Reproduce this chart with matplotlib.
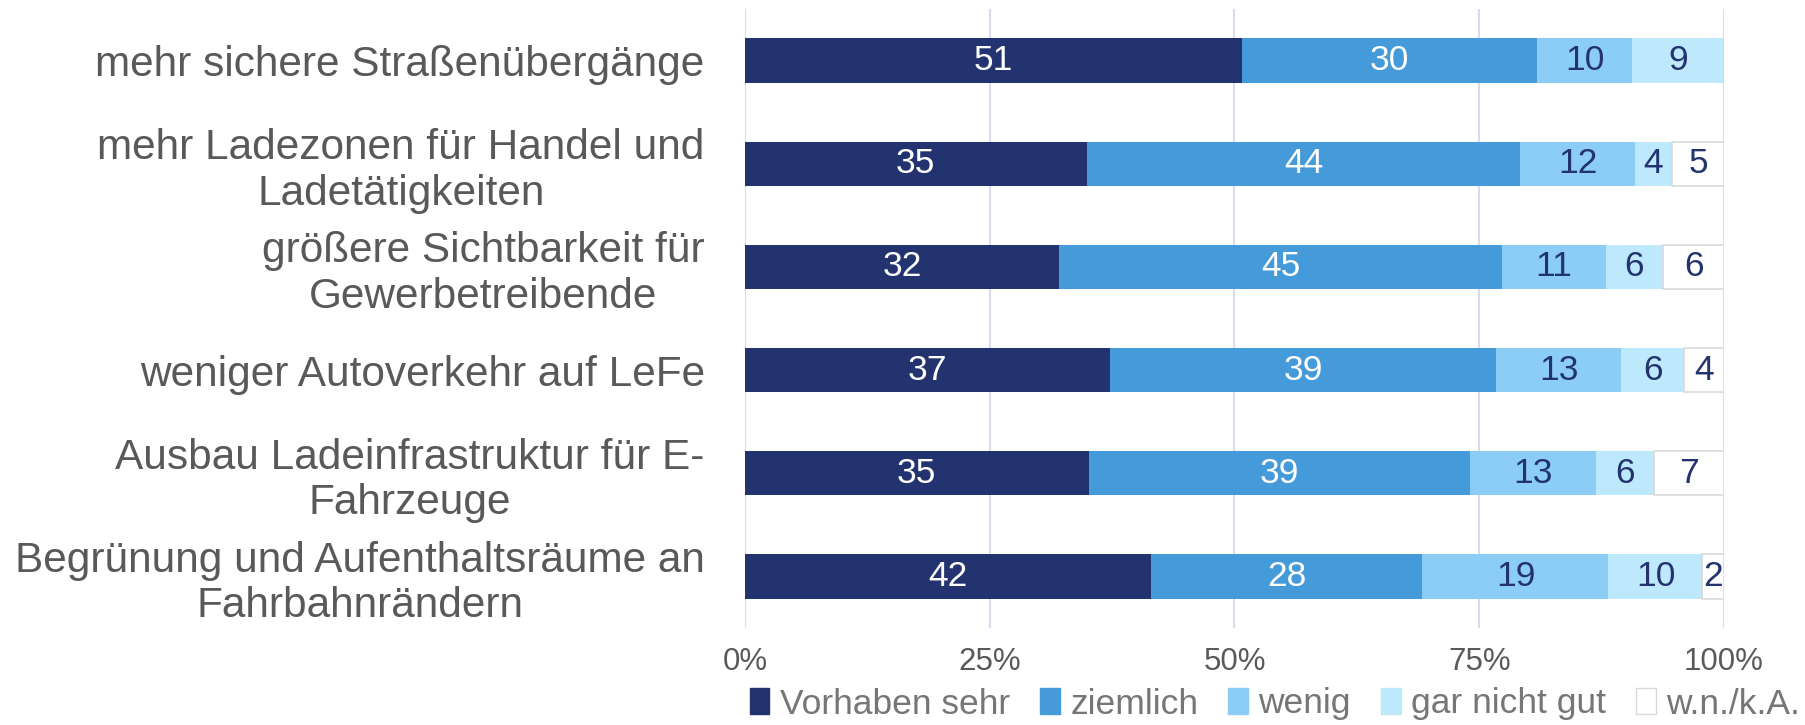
import matplotlib
matplotlib.use("Agg")
import matplotlib.pyplot as plt
from matplotlib.patches import Patch
import numpy as np

plt.rcParams['font.family'] = ['Liberation Sans', 'DejaVu Sans']

categories = [
    "mehr sichere Straßenübergänge",
    "mehr Ladezonen für Handel und\nLadetätigkeiten",
    "größere Sichtbarkeit für\nGewerbetreibende",
    "weniger Autoverkehr auf LeFe",
    "Ausbau Ladeinfrastruktur für E-\nFahrzeuge",
    "Begrünung und Aufenthaltsräume an\nFahrbahnrändern",
]
series_names = ["Vorhaben sehr", "ziemlich", "wenig", "gar nicht gut", "w.n./k.A."]
sehr = [50.8, 34.9, 32.1, 37.3, 35.1, 41.5]
ziemlich = [30.1, 44.3, 45.2, 39.4, 39.0, 27.7]
wenig = [9.7, 11.7, 10.6, 12.8, 12.8, 19.0]
gar_nicht = [9.4, 3.8, 5.9, 6.4, 5.9, 9.6]
wnka = [0.0, 5.3, 6.2, 4.1, 7.2, 2.2]
tick_labels = ["0%", "25%", "50%", "75%", "100%"]

colors = ["#233370", "#459ADA", "#8BCDF5", "#BEE8FC", "#FFFFFF"]
edges = [None, None, None, None, "#D9D9D9"]
text_colors = ["white", "white", "#233370", "#233370", "#233370"]

fig = plt.figure(figsize=(18.06, 7.25), dpi=100)
ax = fig.add_axes([745/1806, 1-628/725, (1724-745)/1806, (628-9)/725])

y = np.arange(len(categories))
left = np.zeros(len(categories))
data = [sehr, ziemlich, wenig, gar_nicht, wnka]
for vals, name, c, ec, tc in zip(data, series_names, colors, edges, text_colors):
    vals = np.array(vals)
    ax.barh(y, vals, left=left, height=0.43, color=c,
            edgecolor=ec if ec else c, linewidth=1.2 if ec else 0, zorder=3)
    for yi, l, v in zip(y, left, vals):
        if v > 0:
            ax.text(l + v/2, yi, f"{v:.0f}", ha='center', va='center',
                    color=tc, fontsize=25.5, zorder=4)
    left = left + vals

ax.set_xlim(0, 100)
ax.set_ylim(len(categories)-0.5, -0.5)
ax.set_xticks([0, 25, 50, 75, 100])
ax.set_xticklabels(tick_labels, fontsize=22.5, color="#595959")
ax.set_yticks(y)
ax.set_yticklabels(categories, fontsize=30.5, color="#595959", ha='right',
                   multialignment='center', linespacing=1.17)
ax.tick_params(axis='both', length=0)
ax.tick_params(axis='y', pad=29)
ax.tick_params(axis='x', pad=14)
for s in ax.spines.values():
    s.set_visible(False)
ax.grid(axis='x', color="#D9DCF0", linewidth=1.5, zorder=0)

handles = [Patch(facecolor=c, edgecolor=(ec if ec else c), linewidth=1) for c, ec in zip(colors, edges)]
fig.legend(handles, series_names, loc='center', bbox_to_anchor=(1275/1806, 1-704/725),
           ncol=5, frameon=False, fontsize=25.5, labelcolor="#767676",
           handlelength=0.55, handleheight=0.75, handletextpad=0.3, columnspacing=0.85,
           borderaxespad=0, borderpad=0)

fig.savefig("out.png", dpi=100)
